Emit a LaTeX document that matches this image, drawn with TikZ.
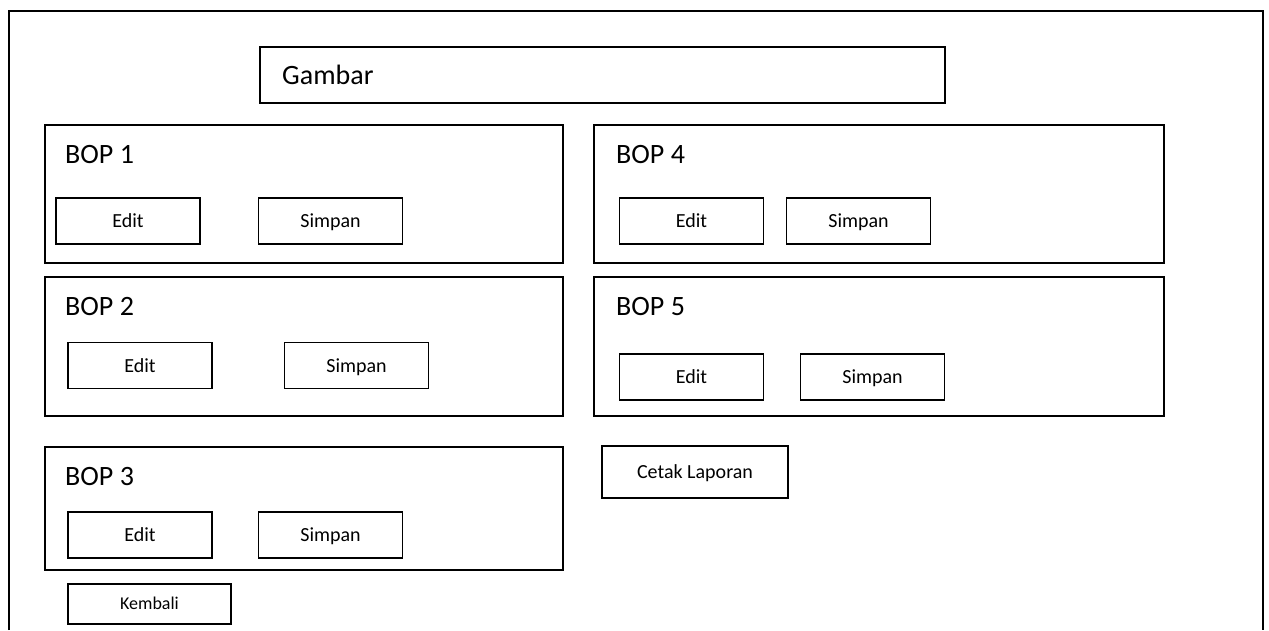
\documentclass[tikz,border=0pt]{standalone}
\usepackage{fontspec}
\setmainfont{Carlito}
\usetikzlibrary{positioning}

\tikzset{
    panel/.style={draw, line width=1.5pt, inner sep=0pt, anchor=north west},
    tombol/.style={draw, line width=1.5pt, inner sep=0pt, minimum width=144pt, minimum height=46pt, text height=14pt, text depth=1pt, font=\fontsize{20}{24}\selectfont},
    judul/.style={anchor=base west, inner sep=0pt, font=\fontsize{28}{34}\selectfont}
}

\begin{document}
\begin{tikzpicture}[x=1pt,y=-1pt]

        \useasboundingbox (0,0) rectangle (1269,630);
        \fill[white] (0,0) rectangle (1269,630);
        \draw[line width=2pt] (9,630) -- (9,11) -- (1263,11) -- (1263,630);

        % judul gambar
        \node[panel, minimum width=685pt, minimum height=56pt] (gambar) at (259,46) {};
        \node[judul] (gambarteks) at (282,84) {Gambar};

        % kolom kiri
        \node[panel, minimum width=518pt, minimum height=138pt] (bop1) at (44,124) {};
        \node[judul] (bop1teks) at (65,163) {BOP 1};
        \node[tombol] (bop1edit) at (128,221) {Edit};
        \node[tombol] (bop1simpan) at (330.5,221) {Simpan};

        \node[panel, minimum width=518pt, minimum height=139pt] (bop2) at (44,276) {};
        \node[judul] (bop2teks) at (65,315) {BOP 2};
        \node[tombol] (bop2edit) at (140,365.5) {Edit};
        \node[tombol] (bop2simpan) at (356.5,365.5) {Simpan};

        \node[panel, minimum width=518pt, minimum height=123pt] (bop3) at (44,446) {};
        \node[judul] (bop3teks) at (65,485) {BOP 3};
        \node[tombol] (bop3edit) at (140,535) {Edit};
        \node[tombol] (bop3simpan) at (330.5,535) {Simpan};

        \node[tombol, minimum width=163pt, minimum height=40pt, text height=12.6pt, font=\fontsize{18}{22}\selectfont] (kembali) at (149.5,604) {Kembali};

        % kolom kanan
        \node[panel, minimum width=570pt, minimum height=138pt] (bop4) at (593,124) {};
        \node[judul] (bop4teks) at (616,163) {BOP 4};
        \node[tombol] (bop4edit) at (691.5,221) {Edit};
        \node[tombol] (bop4simpan) at (858.5,221) {Simpan};

        \node[panel, minimum width=570pt, minimum height=139pt] (bop5) at (593,276) {};
        \node[judul] (bop5teks) at (616,315) {BOP 5};
        \node[tombol] (bop5edit) at (691.5,377) {Edit};
        \node[tombol] (bop5simpan) at (872.5,377) {Simpan};

        \node[tombol, minimum width=186pt, minimum height=52pt] (cetak) at (695,472) {Cetak Laporan};

\end{tikzpicture}
\end{document}
